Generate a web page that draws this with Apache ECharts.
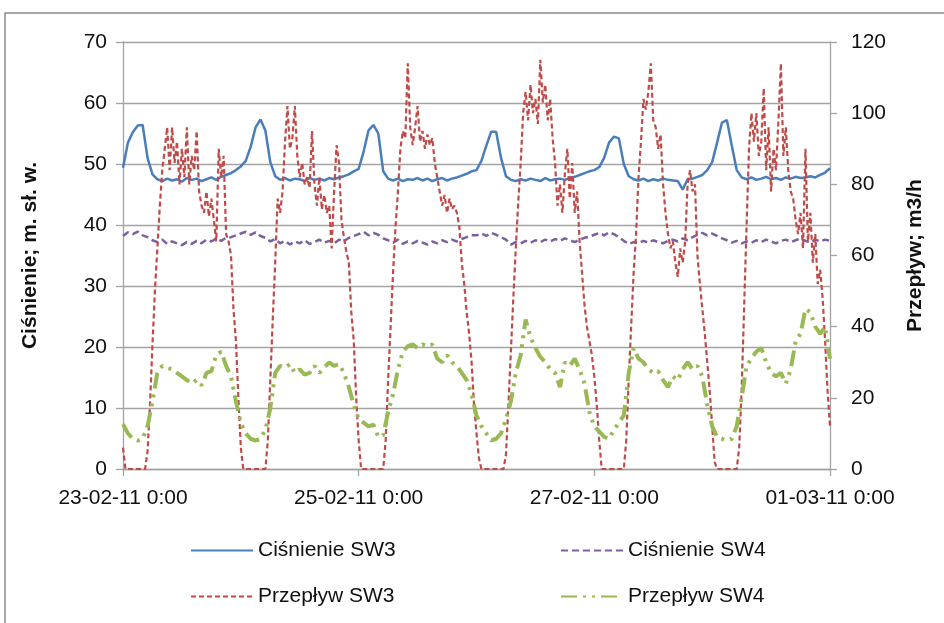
<!DOCTYPE html>
<html><head><meta charset="utf-8">
<script src="https://cdn.jsdelivr.net/npm/echarts@6/dist/echarts.min.js"></script>
<style>html,body{margin:0;padding:0;background:#fff}#c{width:944px;height:623px}</style>
</head><body><div id="c"></div>
<script>
// x axis: hours from 23-02-11 0:00
const xTickLabels = ['23-02-11 0:00','25-02-11 0:00','27-02-11 0:00','01-03-11 0:00'];
const leftTicks = [0,10,20,30,40,50,60,70];
const rightTicks = [0,20,40,60,80,100,120];
const seriesNames = ['Ciśnienie SW3','Ciśnienie SW4','Przepływ SW3','Przepływ SW4'];

// Ciśnienie SW3 [m], hourly
const cisnienieSW3 = [
49.4,53.5,55.2,56.3,56.4,51.0,48.3,47.5,47.2,47.6,47.3,47.5,47.1,47.7,47.4,47.6,47.2,47.5,47.8,47.4,47.9,48.2,48.5,49.0,
49.6,50.5,52.8,56.0,57.3,55.5,50.3,48.0,47.4,47.7,47.3,47.6,47.5,47.2,47.7,47.4,47.6,47.3,47.7,47.5,47.8,48.0,48.3,48.8,
49.2,52.0,55.5,56.4,55.0,48.8,47.6,47.3,47.6,47.2,47.5,47.4,47.7,47.3,47.6,47.2,47.5,47.7,47.3,47.6,47.8,48.1,48.4,48.8,
49.0,50.5,53.0,55.3,55.3,51.0,48.0,47.4,47.2,47.5,47.3,47.6,47.4,47.2,47.7,47.3,47.5,47.6,47.4,47.7,47.9,48.2,48.5,48.8,
49.0,49.5,51.0,53.5,54.5,54.2,50.0,48.0,47.5,47.3,47.6,47.2,47.5,47.3,47.6,47.4,47.3,47.2,45.8,47.5,47.6,47.9,48.2,49.0,
50.3,53.5,56.8,57.2,53.0,49.0,47.8,47.5,47.8,47.4,47.6,47.9,47.5,47.7,47.4,47.8,47.6,47.9,47.7,47.8,48.0,47.8,48.2,48.6,49.3
];
// Ciśnienie SW4 [m], hourly
const cisnienieSW4 = [
38.2,38.8,38.5,38.9,38.3,38.0,37.5,37.2,37.6,36.9,37.3,37.0,36.7,37.2,36.9,37.4,37.0,37.6,37.3,37.8,37.4,37.9,38.0,38.3,
38.6,38.9,38.4,38.8,38.2,37.9,37.3,37.7,37.0,37.4,36.8,37.3,37.0,37.5,36.9,37.2,37.6,37.1,37.4,37.0,37.6,37.3,37.9,38.2,
38.5,38.9,38.3,38.7,38.4,37.8,37.5,37.1,37.6,36.9,37.3,37.0,37.4,37.1,36.8,37.3,37.0,37.5,37.2,37.6,37.3,37.7,38.0,38.3,
38.3,38.6,38.2,38.7,38.4,38.0,37.6,36.8,37.2,37.0,37.4,37.1,37.5,37.2,37.6,37.3,37.7,37.4,37.8,37.5,37.2,37.6,37.9,38.1,
38.4,38.7,38.3,38.8,38.5,38.0,37.4,36.9,37.2,37.0,37.4,37.1,37.5,37.2,37.0,37.4,37.6,37.3,37.8,37.5,38.0,38.4,38.7,38.3,
38.6,38.2,37.8,37.5,37.1,37.4,37.0,37.3,37.1,37.5,37.2,37.6,37.3,37.0,37.4,37.6,37.2,37.5,37.8,37.4,37.1,37.6,37.3,37.6,37.4
];
// Przepływ SW3 [m3/h], half-hourly
const przeplywSW3 = [
6,0,0,0,0,0,0,0,0,0,5,18,35,50,62,74,84,90,96,84,96,86,92,80,90,82,96,80,88,84,95,78,74,72,78,71,76,70,64,90,82,88,66,64,60,45,36,20,
6,0,0,0,0,0,0,0,0,0,0,8,25,42,58,76,72,78,92,102,90,93,102,88,82,86,80,82,79,95,80,74,82,73,77,72,74,62,78,91,86,70,65,61,58,44,36,20,
8,0,0,0,0,0,0,0,0,0,0,8,25,40,55,68,78,90,95,93,114,96,91,96,102,92,95,90,94,91,93,86,82,78,74,77,72,76,73,74,72,68,58,52,44,38,30,18,
10,3,0,0,0,0,0,0,0,0,0,0,4,18,33,48,62,75,86,100,106,98,108,100,104,97,115,103,108,98,104,93,86,74,80,72,83,90,76,86,72,78,64,55,46,40,36,32,
26,18,8,0,0,0,0,0,0,0,0,0,0,8,25,40,55,66,82,92,104,101,106,114,98,96,90,94,80,72,66,62,64,58,54,62,58,64,80,84,78,80,60,52,45,38,30,22,
12,2,0,0,0,0,0,0,0,0,0,6,22,45,68,90,100,92,100,88,92,107,84,96,78,90,84,98,114,88,96,84,78,76,70,66,72,62,90,64,72,58,66,52,56,48,36,22,12
];
// Przepływ SW4 [m3/h], hourly
const przeplywSW4 = [
12.6,10,8.5,8,8.5,12,19,27,29,28.5,28,27,26,25,24,25,23.5,27,27.5,32,33,29,26,19,
13,10,8.5,8,8.5,11,17,27,29,28.5,29.5,27,28,26.5,27,29,27,28.5,30,29,29.5,27,23,18,
14,13,12,12.5,9,9.5,16,21,28,33,34.5,35,34,35,34.5,35,31,30,32,30,29,27,25,21,
15,12,10,8,8.5,10,14,19,27,32,42,37,34,31.5,30,28,27,23,30,29,31,28,24,16,
12,10.5,9,8.5,11,13,15,27,34,31,30,28,27,27.5,25,23,26,25,28,30,28,29,26,18,
12,9,8.5,8,8.5,12,20,29,31,33,34,30,27,26,27,24,28,36,38,45,44,40,38,40,31
];
const hourStep = 1, halfHourStep = 0.5;

function pairs(arr, step){ return arr.map((v,i)=>[i*step, v]); }

const FONT = 'Liberation Sans, Arial, sans-serif';
const chart = echarts.init(document.getElementById('c'), null, {renderer:'canvas'});
const grid = '#a3a3a3';
function legendFor(names, left){
  return {data:names, left:left, top:540, orient:'vertical', itemGap:25, itemWidth:62, itemHeight:14, padding:0,
    itemStyle:{opacity:0},
    textStyle:{fontFamily:FONT, fontSize:21, color:'#111'}};
}
chart.setOption({
  animation:false,
  backgroundColor:'#fff',
  graphic:[{type:'rect', shape:{x:5,y:13,width:980,height:660}, style:{fill:'none', stroke:'#8c8c8c', lineWidth:1.5}, silent:true}],
  grid:{left:123, right:114, top:42, bottom:154},
  legend:[
    legendFor([seriesNames[0], seriesNames[2]], 190),
    legendFor([seriesNames[1], seriesNames[3]], 560)
  ],
  xAxis:{type:'value', min:0, max:144, interval:48,
    axisLine:{lineStyle:{color:grid, width:1.3}},
    axisTick:{show:true, length:7, lineStyle:{color:grid, width:1.3}},
    splitLine:{show:false},
    axisLabel:{margin:19, fontFamily:FONT, fontSize:21, color:'#111',
      formatter:v=>xTickLabels[Math.round(v/48)]}
  },
  yAxis:[
    {type:'value', min:leftTicks[0], max:leftTicks[leftTicks.length-1], interval:10, position:'left',
     name:'Ciśnienie; m. sł. w.', nameLocation:'middle', nameRotate:90, nameGap:82,
     nameTextStyle:{fontFamily:FONT, fontSize:21, fontWeight:'bold', color:'#111'},
     axisLine:{show:true, lineStyle:{color:grid, width:1.3}},
     axisTick:{show:true, length:7, lineStyle:{color:grid, width:1.3}},
     splitLine:{show:true, lineStyle:{color:grid, width:1.3}},
     axisLabel:{margin:16, fontFamily:FONT, fontSize:21, color:'#111'}},
    {type:'value', min:rightTicks[0], max:rightTicks[rightTicks.length-1], interval:20, position:'right',
     name:'Przepływ; m3/h', nameLocation:'middle', nameRotate:90, nameGap:75,
     nameTextStyle:{fontFamily:FONT, fontSize:21, fontWeight:'bold', color:'#111'},
     axisLine:{show:true, lineStyle:{color:grid, width:1.3}},
     axisTick:{show:true, length:7, lineStyle:{color:grid, width:1.3}},
     splitLine:{show:false},
     axisLabel:{margin:21, fontFamily:FONT, fontSize:21, color:'#111'}}
  ],
  series:[
    {name:seriesNames[0], type:'line', yAxisIndex:0, symbol:'none', data:pairs(cisnienieSW3, hourStep),
     lineStyle:{color:'#4a7ebb', width:2.5}, itemStyle:{color:'#4a7ebb'}},
    {name:seriesNames[1], type:'line', yAxisIndex:0, symbol:'none', data:pairs(cisnienieSW4, hourStep),
     lineStyle:{color:'#7d60a0', width:2.5, type:[7,4]}, itemStyle:{color:'#7d60a0'}},
    {name:seriesNames[2], type:'line', yAxisIndex:1, symbol:'none', data:pairs(przeplywSW3, halfHourStep),
     lineStyle:{color:'#be4b48', width:2.2, type:[5,3]}, itemStyle:{color:'#be4b48'}},
    {name:seriesNames[3], type:'line', yAxisIndex:1, symbol:'none', data:pairs(przeplywSW4, hourStep),
     lineStyle:{color:'#98b954', width:4, type:[16,6,3,6,3,6]}, itemStyle:{color:'#98b954'}}
  ]
});
</script></body></html>
